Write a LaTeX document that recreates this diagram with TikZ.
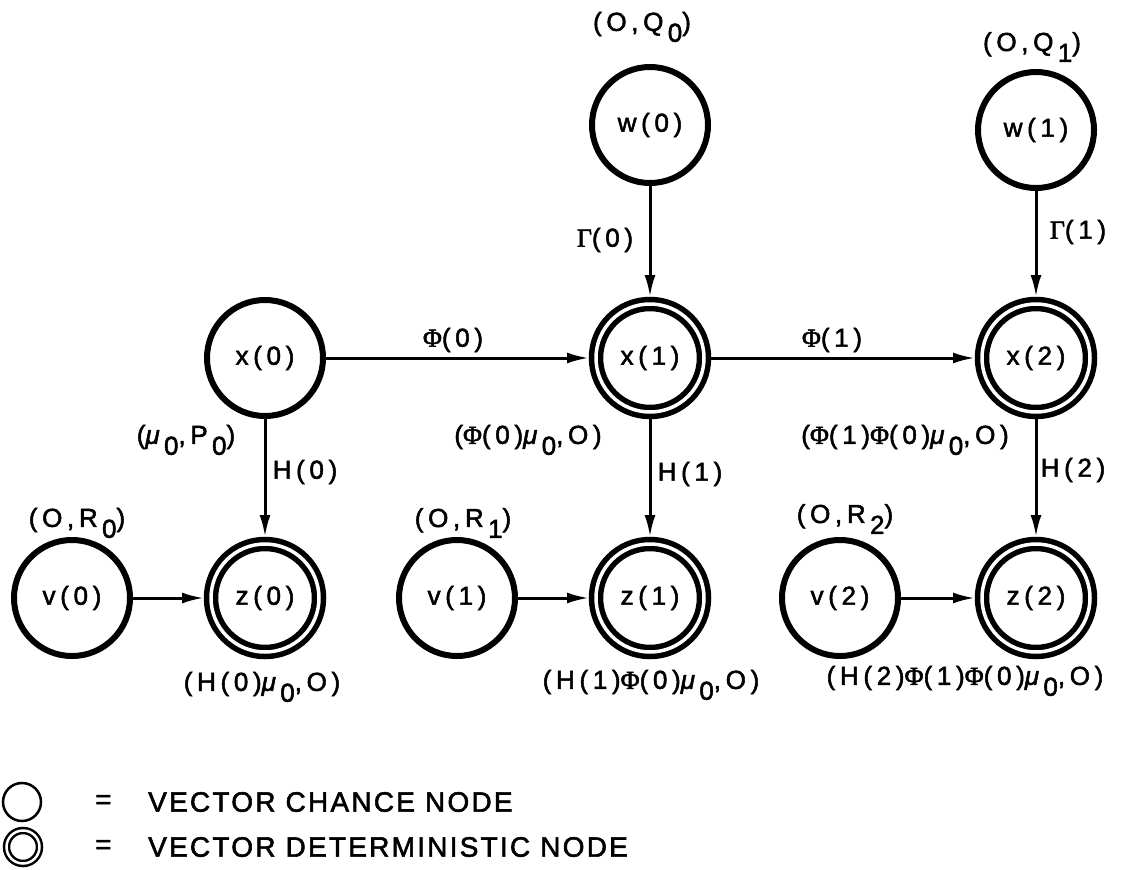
\documentclass[tikz,border=0pt]{standalone}
\usepackage{fontspec}
\setmainfont[LetterSpace=18,FakeBold=2]{Liberation Sans}
\newfontfamily\legfont[LetterSpace=8,FakeBold=2]{Liberation Sans}
\newfontfamily\greekserif[LetterSpace=18,FakeBold=2]{Liberation Serif}
\usetikzlibrary{arrows.meta}
\newcommand\lsub[1]{\,\raisebox{-0.42em}{#1}}
\newcommand\gmu{{\itshape μ}}
\newcommand\gPhi{{\greekserif Φ}}
\newcommand\gGamma{{\greekserif Γ}}
\begin{document}
\begin{tikzpicture}[x=1pt,y=-1pt,
  lbl/.style={inner sep=0pt, font=\fontsize{26}{30}\selectfont},
  chance/.style={circle, draw, line width=6pt, minimum size=116pt, inner sep=0pt, outer sep=3pt, font=\fontsize{26}{30}\selectfont},
  determ/.style={circle, draw, line width=5.5pt, double, double distance=3.5pt, minimum size=108pt, inner sep=0pt, outer sep=7pt, font=\fontsize{26}{30}\selectfont},
  arr/.style={line width=3pt, -{Latex[length=22pt,width=11pt]}},
  legtext/.style={anchor=west, inner sep=0pt, font=\legfont\fontsize{28}{32}\selectfont}]
\useasboundingbox (0,0) rectangle (1127,870);
% nodes
\node[chance] (w0) at (650,125) {w(0)};
\node[chance] (w1) at (1036,130) {w(1)};
\node[chance] (x0) at (265,358) {x(0)};
\node[determ] (x1) at (650,358) {x(1)};
\node[determ] (x2) at (1036,358) {x(2)};
\node[chance] (v0) at (72,598) {v(0)};
\node[determ] (z0) at (265,598) {z(0)};
\node[chance] (v1) at (457,598) {v(1)};
\node[determ] (z1) at (650,598) {z(1)};
\node[chance] (v2) at (840,598) {v(2)};
\node[determ] (z2) at (1036,598) {z(2)};
% connectors
\draw[arr] (w0) -- (x1);
\draw[arr] (w1) -- (x2);
\draw[arr] (x0) -- (x1);
\draw[arr] (x1) -- (x2);
\draw[arr] (x0) -- (z0);
\draw[arr] (x1) -- (z1);
\draw[arr] (x2) -- (z2);
\draw[arr] (v0) -- (z0);
\draw[arr] (v1) -- (z1);
\draw[arr] (v2) -- (z2);
% labels
\node[lbl] (lq0) at (642,27) {(O,Q\lsub{0})};
\node[lbl] (lq1) at (1032,47) {(O,Q\lsub{1})};
\node[lbl] (lg0) at (605,240) {\gGamma(0)};
\node[lbl] (lg1) at (1078,232) {\gGamma(1)};
\node[lbl] (lf0) at (453,340) {\gPhi(0)};
\node[lbl] (lf1) at (832,340) {\gPhi(1)};
\node[lbl] (lmp) at (186,440) {(\gmu\lsub{0},P\lsub{0})};
\node[lbl] (lx1) at (528,440) {(\gPhi(0)\gmu\lsub{0},O)};
\node[lbl] (lx2) at (905,440) {(\gPhi(1)\gPhi(0)\gmu\lsub{0},O)};
\node[lbl] (lh0) at (305,472) {H(0)};
\node[lbl] (lh1) at (690,474) {H(1)};
\node[lbl] (lh2) at (1073,470) {H(2)};
\node[lbl] (lr0) at (77,523) {(O,R\lsub{0})};
\node[lbl] (lr1) at (463,523) {(O,R\lsub{1})};
\node[lbl] (lr2) at (845,519) {(O,R\lsub{2})};
\node[lbl] (lz0) at (262,687) {(H(0)\gmu\lsub{0},O)};
\node[lbl] (lz1) at (651,685) {(H(1)\gPhi(0)\gmu\lsub{0},O)};
\node[lbl] (lz2) at (965,681) {(H(2)\gPhi(1)\gPhi(0)\gmu\lsub{0},O)};
% legend
\node[circle, draw, line width=2.5pt, minimum size=38pt, inner sep=0pt] (leg1) at (22,802) {};
\node[circle, draw, line width=2.5pt, double, double distance=2.5pt, minimum size=33pt, inner sep=0pt] (leg2) at (23,847) {};
\node[legtext] (eq1) at (95,802) {=};
\node[legtext] (eq2) at (95,847) {=};
\node[legtext] (t1) at (148,802) {VECTOR CHANCE NODE};
\node[legtext] (t2) at (148,847) {VECTOR DETERMINISTIC NODE};
\end{tikzpicture}
\end{document}
